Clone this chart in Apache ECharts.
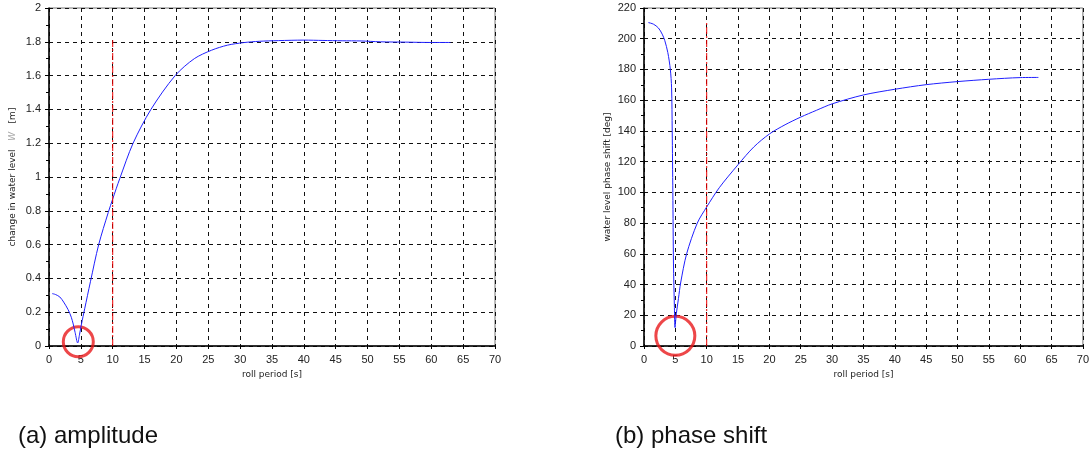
<!DOCTYPE html>
<html>
<head>
<meta charset="utf-8">
<script src="https://cdn.jsdelivr.net/npm/echarts@6/dist/echarts.min.js"></script>
<style>
  html, body { margin: 0; padding: 0; background: #fff; }
  #chart { width: 1092px; height: 450px; }
</style>
</head>
<body>
<div id="chart"></div>
<script>
// amplitude curve (a): roll period [s] -> change in water level [m]
const ampPeriod = [0.5, 1.0, 1.7, 2.3, 3.0, 3.5, 3.8, 4.1, 4.5, 4.8, 5.1, 5.6, 6.5, 7.8, 9.3, 10, 11.1, 13.2, 16.0, 19.8, 22.8, 25.5, 28, 30.5, 33, 36, 40, 43, 46, 49, 52, 56, 60, 63];
const ampValue = [0.31, 0.305, 0.29, 0.26, 0.215, 0.17, 0.13, 0.08, 0.018, 0.07, 0.13, 0.22, 0.38, 0.6, 0.79, 0.87, 0.99, 1.2, 1.4, 1.6, 1.7, 1.75, 1.78, 1.795, 1.803, 1.807, 1.81, 1.808, 1.806, 1.805, 1.8, 1.798, 1.796, 1.796];

// phase curve (b): roll period [s] -> water level phase shift [deg]
const phasePeriod = [0.7, 1.5, 2.3, 2.9, 3.3, 3.8, 4.2, 4.4, 4.5, 4.6, 4.7, 4.85, 4.95, 5.05, 5.16, 5.5, 5.84, 6.8, 8.5, 10, 12, 15, 17.5, 20, 22.5, 25, 27.5, 30, 35, 40, 45, 50, 55, 60, 62.9];
const phaseValue = [210.5, 209.5, 207, 203, 199, 191, 180, 168, 140, 100, 54, 25, 12, 12, 21, 31, 41, 60, 80, 90.5, 103, 118, 129.5, 138, 144, 149, 153.4, 157.6, 163.4, 167.1, 170.1, 172.1, 173.6, 174.7, 174.8];

// red marker line at 10 s
const markPeriod = 10;
const ampMarkTop = 1.81;
const phaseMarkTop = 211;

// red circles around the minima
const ampCircle = [4.6, 0.025];
const phaseCircle = [5.0, 6.6];

const captions = ['(a) amplitude', '(b) phase shift'];

const chart = echarts.init(document.getElementById('chart'));

const gridLine = { show: true, lineStyle: { color: '#111', type: [4, 4], width: 1 } };
const labelStyle = { color: '#222', fontSize: 11, fontFamily: 'Liberation Sans' };
const nameStyle = { color: '#222', fontSize: 9, fontFamily: 'DejaVu Sans' };

function xAxis(gridIndex) {
  return {
    gridIndex: gridIndex, type: 'value', min: 0, max: 70, interval: 5,
    name: 'roll period [s]', nameLocation: 'middle', nameGap: 24, nameTextStyle: nameStyle,
    axisLine: { show: true, onZero: false, lineStyle: { color: '#000', width: 1.5 } },
    axisTick: { show: true, length: 3, lineStyle: { color: '#000' } },
    axisLabel: labelStyle,
    splitLine: gridLine
  };
}

function pairs(xs, ys) {
  return xs.map((x, i) => [x, ys[i]]);
}

const option = {
  animation: false,
  title: [
    { text: captions[0], left: 13, top: 419, textStyle: { fontSize: 24, fontWeight: 'normal', color: '#111', fontFamily: 'Liberation Sans' } },
    { text: captions[1], left: 610, top: 419, textStyle: { fontSize: 24, fontWeight: 'normal', color: '#111', fontFamily: 'Liberation Sans' } }
  ],
  grid: [
    { left: 49, right: 597, top: 8, bottom: 104, show: true, borderColor: '#777', borderWidth: 1 },
    { left: 644, right: 0, top: 8, bottom: 104, show: true, borderColor: '#777', borderWidth: 1 }
  ],
  xAxis: [xAxis(0), xAxis(1)],
  yAxis: [
    {
      gridIndex: 0, type: 'value', min: 0, max: 2, interval: 0.2,
      name: 'change in water level   {w|W}   [m]', nameLocation: 'middle', nameGap: 32, nameRotate: 90,
      nameTextStyle: Object.assign({}, nameStyle, { rich: { w: { color: '#aaa', fontStyle: 'italic', fontSize: 9 } } }),
      axisLine: { show: true, onZero: false, lineStyle: { color: '#000', width: 1.5 } },
      axisTick: { show: true, length: 4, lineStyle: { color: '#000' } },
      minorTick: { show: true, splitNumber: 2, length: 3, lineStyle: { color: '#000' } },
      axisLabel: Object.assign({}, labelStyle, { formatter: v => String(Math.round(v * 10) / 10) }),
      splitLine: gridLine
    },
    {
      gridIndex: 1, type: 'value', min: 0, max: 220, interval: 20,
      name: 'water level phase shift [deg]', nameLocation: 'middle', nameGap: 32, nameRotate: 90,
      nameTextStyle: nameStyle,
      axisLine: { show: true, onZero: false, lineStyle: { color: '#000', width: 1.5 } },
      axisTick: { show: true, length: 4, lineStyle: { color: '#000' } },
      minorTick: { show: true, splitNumber: 2, length: 3, lineStyle: { color: '#000' } },
      axisLabel: labelStyle,
      splitLine: gridLine
    }
  ],
  series: [
    {
      type: 'line', xAxisIndex: 0, yAxisIndex: 0, smooth: 0.3, showSymbol: false,
      data: pairs(ampPeriod, ampValue),
      lineStyle: { color: '#1f1fff', width: 1 }
    },
    {
      type: 'line', xAxisIndex: 0, yAxisIndex: 0, showSymbol: false,
      data: [[markPeriod, 0], [markPeriod, ampMarkTop]],
      lineStyle: { color: '#e00', width: 1, type: [7, 2, 2, 2] }
    },
    {
      type: 'scatter', xAxisIndex: 0, yAxisIndex: 0, symbol: 'circle', symbolSize: 30,
      data: [ampCircle],
      itemStyle: { color: 'rgba(0,0,0,0)', borderColor: '#e8191c', borderWidth: 3 }
    },
    {
      type: 'line', xAxisIndex: 1, yAxisIndex: 1, smooth: 0.3, showSymbol: false,
      data: pairs(phasePeriod, phaseValue),
      lineStyle: { color: '#1f1fff', width: 1 }
    },
    {
      type: 'line', xAxisIndex: 1, yAxisIndex: 1, showSymbol: false,
      data: [[markPeriod, 0], [markPeriod, phaseMarkTop]],
      lineStyle: { color: '#e00', width: 1, type: [7, 2, 2, 2] }
    },
    {
      type: 'scatter', xAxisIndex: 1, yAxisIndex: 1, symbol: 'circle', symbolSize: 39,
      data: [phaseCircle],
      itemStyle: { color: 'rgba(0,0,0,0)', borderColor: '#e8191c', borderWidth: 3 }
    }
  ]
};

chart.setOption(option);
window.addEventListener('resize', () => {
  chart.resize();
});
</script>
</body>
</html>
